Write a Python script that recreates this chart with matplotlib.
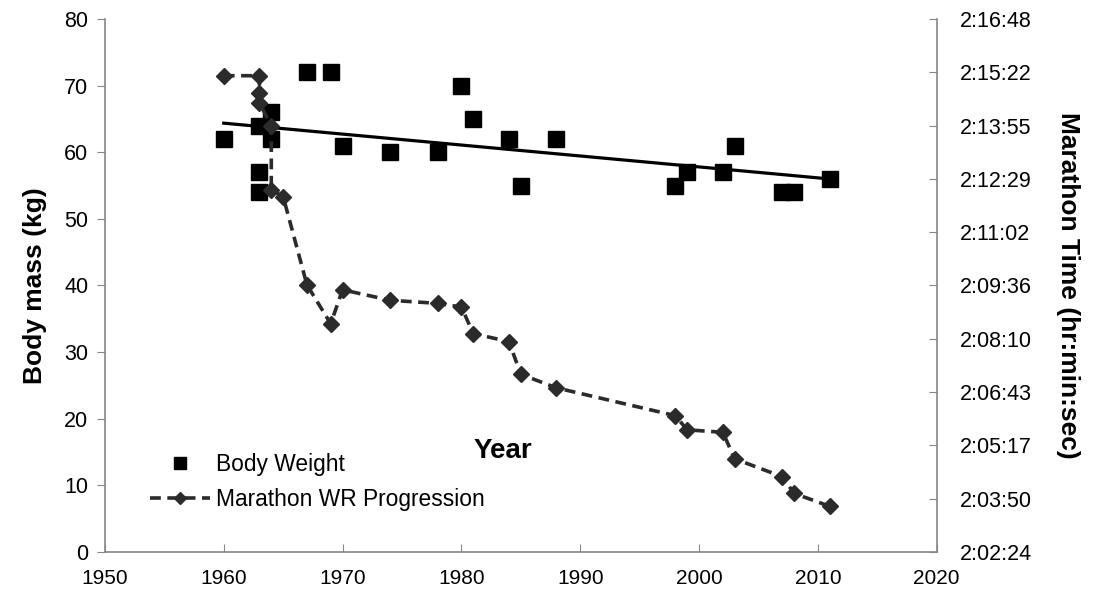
import numpy as np
import matplotlib
matplotlib.use('Agg')
import matplotlib.pyplot as plt
from matplotlib.ticker import FuncFormatter, MultipleLocator

plt.rcParams['font.family'] = ['Liberation Sans', 'DejaVu Sans']

# Body weight of record holders (kg)
weight_years = [1960, 1963, 1963, 1963, 1964, 1964, 1967, 1969, 1970, 1974, 1978,
                1980, 1981, 1984, 1985, 1988, 1998, 1999, 2002, 2003, 2007, 2008, 2011]
weight_kg = [62, 64, 57, 54, 66, 62, 72, 72, 61, 60, 60,
             70, 65, 62, 55, 62, 55, 57, 57, 61, 54, 54, 56]

# Marathon world record progression (h:mm:ss)
wr_years = [1960, 1963, 1963, 1963, 1964, 1964, 1965, 1967, 1969, 1970, 1974, 1978,
            1980, 1981, 1984, 1985, 1988, 1998, 1999, 2002, 2003, 2007, 2008, 2011]
wr_times = ['2:15:16', '2:15:16', '2:14:48', '2:14:32', '2:13:55', '2:12:11', '2:12:00',
            '2:09:37', '2:08:34', '2:09:29', '2:09:12', '2:09:07', '2:09:01', '2:08:18',
            '2:08:05', '2:07:12', '2:06:50', '2:06:05', '2:05:42', '2:05:38', '2:04:55',
            '2:04:26', '2:03:59', '2:03:38']


def to_sec(t):
    h, m, s = t.split(':')
    return int(h) * 3600 + int(m) * 60 + int(s)


def fmt_time(v, pos=None):
    s = int(round(v))
    return f"{s // 3600}:{(s % 3600) // 60:02d}:{s % 60:02d}"


wr_sec = [to_sec(t) for t in wr_times]

fig = plt.figure(figsize=(10.93, 5.92), dpi=100)
ax = fig.add_axes([0.096, 0.0676, 0.761, 0.9004])
ax2 = ax.twinx()

gray = '#868686'
line_col = '#2b2b2b'

# body weight squares + linear trend
ax.plot(weight_years, weight_kg, 's', color='black', markersize=11.5,
        linestyle='none', label='Body Weight', zorder=3)
k, b = np.polyfit(weight_years, weight_kg, 1)
xs = np.array([min(weight_years), max(weight_years)])
ax.plot(xs, k * xs + b, color='black', lw=2.3, zorder=3)

# marathon WR on right axis
ax2.plot(wr_years, wr_sec, '--D', color=line_col, lw=2.6, markersize=8,
         dashes=(3.0, 1.8), label='Marathon WR Progression')

ax.set_xlim(1950, 2020)
ax.set_ylim(0, 80)
ax.xaxis.set_major_locator(MultipleLocator(10))
ax.yaxis.set_major_locator(MultipleLocator(10))
ax2.set_ylim(7344, 8208)
ax2.yaxis.set_major_locator(MultipleLocator(86.4))
ax2.yaxis.set_major_formatter(FuncFormatter(fmt_time))

for a in (ax, ax2):
    for sp in a.spines.values():
        sp.set_color(gray)
        sp.set_linewidth(1.2)
    a.spines['top'].set_visible(False)
ax.spines['right'].set_visible(False)
ax2.spines['left'].set_visible(False)
ax2.spines['bottom'].set_visible(False)

ax.tick_params(axis='x', direction='in', length=6, color=gray, labelsize=15, pad=12)
ax.tick_params(axis='y', direction='out', length=6, color=gray, labelsize=15.5, pad=6)
ax2.tick_params(axis='y', direction='in', length=6, color=gray, labelsize=15.5, pad=17)

ax.set_ylabel('Body mass (kg)', fontsize=19, fontweight='bold', labelpad=12)
ax2.set_ylabel('Marathon Time (hr:min:sec)', fontsize=19, fontweight='bold',
               rotation=270, labelpad=34)
ax.text(0.478, 0.19, 'Year', transform=ax.transAxes, ha='center', va='center',
        fontsize=20, fontweight='bold')

h1, l1 = ax.get_legend_handles_labels()
h2, l2 = ax2.get_legend_handles_labels()
leg = ax.legend(h1 + h2, l1 + l2, loc='upper left', bbox_to_anchor=(0.03, 0.225),
                frameon=False, fontsize=16.4, markerscale=0.8, handlelength=2.6,
                handletextpad=0.3, labelspacing=0.55)
leg.set_zorder(5)

fig.savefig('out.png', dpi=100)
